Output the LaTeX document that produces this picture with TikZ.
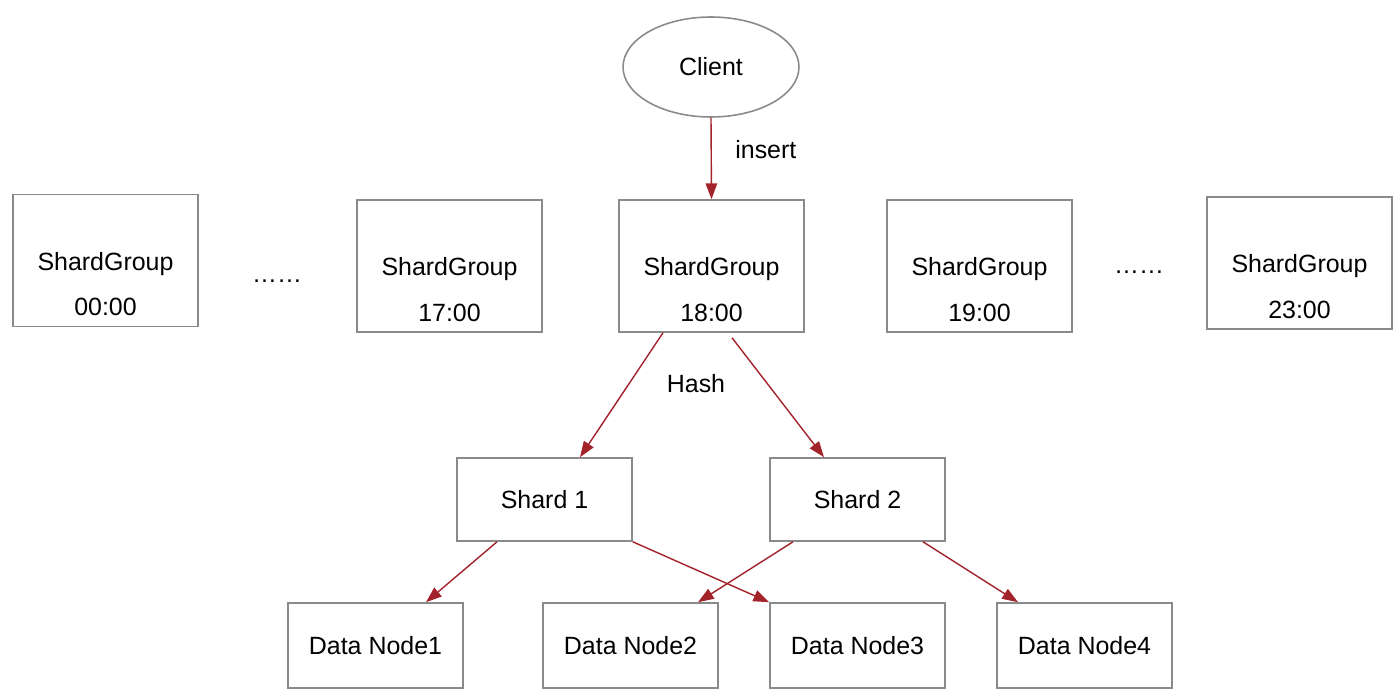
\documentclass[tikz,border=0pt]{standalone}
\usepackage{fontspec}
\setmainfont{Liberation Sans}
\usepackage{xcolor}
\usetikzlibrary{arrows.meta,shapes.geometric}
\definecolor{boxgray}{HTML}{8A8A8A}
\definecolor{linkred}{HTML}{A3232B}
\tikzset{
  sgbox/.style={draw=boxgray,line width=0.9pt,minimum width=3.7cm,minimum height=2.64cm,inner sep=0pt},
  sgtext/.style={align=center,inner sep=0pt},
  shardbox/.style={draw=boxgray,line width=0.9pt,minimum width=3.5cm,minimum height=1.66cm},
  databox/.style={draw=boxgray,line width=0.9pt,minimum width=3.5cm,minimum height=1.7cm},
  link/.style={draw=linkred,line width=0.8pt,-{Triangle[length=9pt,width=6.5pt]}}
}

\begin{document}
\begin{tikzpicture}[x=0.02cm,y=-0.02cm,font=\fontsize{14.2}{26}\selectfont]
\useasboundingbox (0,0) rectangle (1400,699);
\node[draw=boxgray,line width=0.9pt,ellipse,minimum width=3.52cm,minimum height=2cm] (client) at (711,67) {Client};
\node[sgbox] (sg00) at (105.5,260.5) {};
\node[sgtext] (sg00t) at ([yshift=-0.47cm]sg00.center) {ShardGroup\\00:00};
\node (dotsl) at (277,281) {……};
\node[sgbox] (sg17) at (449.5,266) {};
\node[sgtext] (sg17t) at ([yshift=-0.47cm]sg17.center) {ShardGroup\\17:00};
\node[sgbox] (sg18) at (711.5,266) {};
\node[sgtext] (sg18t) at ([yshift=-0.47cm]sg18.center) {ShardGroup\\18:00};
\node[sgbox] (sg19) at (979.5,266) {};
\node[sgtext] (sg19t) at ([yshift=-0.47cm]sg19.center) {ShardGroup\\19:00};
\node (dotsr) at (1139,272) {……};
\node[sgbox] (sg23) at (1299.5,263) {};
\node[sgtext] (sg23t) at ([yshift=-0.47cm]sg23.center) {ShardGroup\\23:00};
\node[shardbox] (shard1) at (544.5,499.5) {Shard 1};
\node[shardbox] (shard2) at (857.5,499.5) {Shard 2};
\node[databox] (dn1) at (375.5,645.5) {Data Node1};
\node[databox] (dn2) at (630.5,645.5) {Data Node2};
\node[databox] (dn3) at (857.5,645.5) {Data Node3};
\node[databox] (dn4) at (1084.5,645.5) {Data Node4};
\node[anchor=west,inner sep=0pt] (insertlbl) at (735,150) {insert};
\node[inner sep=0pt] (hashlbl) at (696,384) {Hash};
\draw[link] (client.south) -- (sg18.north);
\draw[link] ([xshift=-0.97cm]sg18.south) -- ([xshift=0.71cm]shard1.north);
\draw[link] ([xshift=0.41cm,yshift=-0.1cm]sg18.south) -- ([xshift=-0.67cm]shard2.north);
\draw[link] ([xshift=-0.95cm]shard1.south) -- ([xshift=1.01cm]dn1.north);
\draw[link] (shard1.south east) -- (dn3.north west);
\draw[link] ([xshift=-1.29cm]shard2.south) -- ([xshift=1.35cm]dn2.north);
\draw[link] ([xshift=1.31cm]shard2.south) -- ([xshift=-1.33cm]dn4.north);
\end{tikzpicture}
\end{document}
